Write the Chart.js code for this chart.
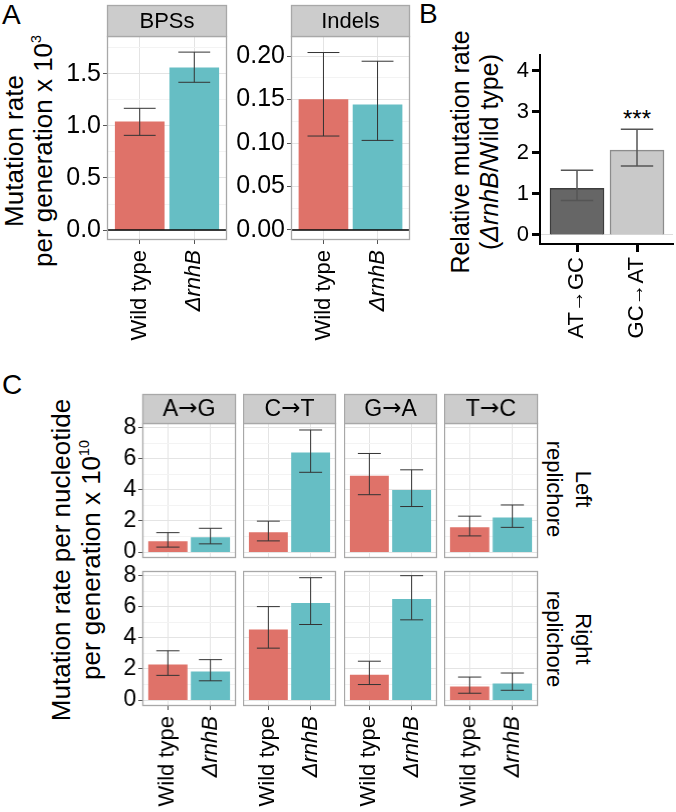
<!DOCTYPE html>
<html>
<head>
<meta charset="utf-8">
<script src="https://cdn.jsdelivr.net/npm/chart.js@4.4.1/dist/chart.umd.min.js"></script>
<style>
  body { margin: 0; background: #fff; }
  #fig { position: relative; width: 676px; height: 812px; overflow: hidden; background: #fff;
         font-family: "Liberation Sans", Arial, Helvetica, sans-serif; color: #000; }
  canvas { position: absolute; }
  .t { position: absolute; white-space: nowrap; }
  .rot { text-align: center; transform: translate(-50%, -50%) rotate(-90deg); }
  .rotr { text-align: center; transform: translate(-50%, -50%) rotate(90deg); }
  sup { font-size: 55%; line-height: 0; vertical-align: 0.75em; }
</style>
</head>
<body>
<div id="fig">
  <div class="t" style="left:2px;top:1px;font-size:28px;line-height:1;">A</div>
  <div class="t" style="left:419px;top:0px;font-size:28px;line-height:1;">B</div>
  <div class="t" style="left:2px;top:371px;font-size:28px;line-height:1;">C</div>

  <div class="t rot" style="left:28px;top:151px;font-size:26px;line-height:28.5px;">Mutation rate<br>per generation x 10<sup>3</sup></div>
  <div class="t rot" style="left:475px;top:152px;font-size:25px;line-height:29px;">Relative mutation rate<br>(<i>ΔrnhB</i>/Wild type)</div>
  <div class="t rot" style="left:76px;top:560px;font-size:26px;line-height:30px;">Mutation rate per nucleotide<br>per generation x 10<sup>10</sup></div>

  <div class="t rotr" id="rowTop" style="left:569px;top:489px;font-size:22px;line-height:29px;"></div>
  <div class="t rotr" id="rowBottom" style="left:569px;top:639px;font-size:22px;line-height:29px;"></div>

  <div class="t" style="left:637px;top:119px;font-size:24px;line-height:1;transform:translate(-50%,-50%);">***</div>
</div>
<script>
// ---------- data ----------
const strains = ["Wild type", "ΔrnhB"];

// A: mutation rate per generation x 10^3
const bpsRate = [1.04, 1.56];
const bpsLow = [0.91, 1.42];
const bpsHigh = [1.17, 1.71];
const bpsTicks = ["0.0", "0.5", "1.0", "1.5"];

const indelRate = [0.150, 0.144];
const indelLow = [0.108, 0.103];
const indelHigh = [0.204, 0.194];
const indelTicks = ["0.00", "0.05", "0.10", "0.15", "0.20"];

// B: relative mutation rate (ΔrnhB / wild type)
const classes = ["AT→GC", "GC→AT"];
const relRate = [1.14, 2.07];
const relLow = [0.84, 1.68];
const relHigh = [1.58, 2.58];
const relTicks = ["0", "1", "2", "3", "4"];

// C: mutation rate per nucleotide per generation x 10^10
const substitutions = ["A→G", "C→T", "G→A", "T→C"];
const replichores = ["Left", "Right"];
const leftWT = [0.68, 1.25, 4.88, 1.57];
const leftWTLow = [0.32, 0.72, 3.69, 1.04];
const leftWTHigh = [1.25, 1.99, 6.34, 2.31];
const leftKO = [0.93, 6.39, 3.97, 2.2];
const leftKOLow = [0.53, 5.13, 2.93, 1.59];
const leftKOHigh = [1.53, 7.85, 5.29, 3.03];
const rightWT = [2.26, 4.51, 1.61, 0.85];
const rightWTLow = [1.59, 3.34, 1.0, 0.44];
const rightWTHigh = [3.17, 6.01, 2.5, 1.48];
const rightKO = [1.82, 6.22, 6.48, 1.04];
const rightKOLow = [1.24, 4.86, 5.16, 0.63];
const rightKOHigh = [2.6, 7.87, 8.0, 1.74];
const cTicks = ["0", "2", "4", "6", "8"];

// ---------- drawing ----------
const FONT = '"Liberation Sans", Arial, Helvetica, sans-serif';
const ARROW_FONT = '"DejaVu Sans", sans-serif';
const RED = "#df7269";
const TEAL = "#66bec4";
const fig = document.getElementById("fig");

document.getElementById("rowTop").innerHTML = replichores[0] + "<br>replichore";
document.getElementById("rowBottom").innerHTML = replichores[1] + "<br>replichore";

function addCanvas(left, top, w, h) {
  const c = document.createElement("canvas");
  c.width = w; c.height = h;
  c.style.left = left + "px"; c.style.top = top + "px";
  c.style.width = w + "px"; c.style.height = h + "px";
  fig.appendChild(c);
  return c;
}

const errorBars = {
  id: "errorBars",
  afterDatasetsDraw(chart, args, o) {
    const ctx = chart.ctx, y = chart.scales.y;
    chart.data.datasets.forEach((ds, di) => {
      chart.getDatasetMeta(di).data.forEach((bar, i) => {
        const top = y.getPixelForValue(ds.errHigh[i]);
        const bot = y.getPixelForValue(ds.errLow[i]);
        const hw = bar.width * o.cap / 2;
        ctx.save();
        ctx.strokeStyle = o.color; ctx.lineWidth = o.width;
        ctx.beginPath();
        ctx.moveTo(bar.x, top); ctx.lineTo(bar.x, bot);
        ctx.moveTo(bar.x - hw, top); ctx.lineTo(bar.x + hw, top);
        ctx.moveTo(bar.x - hw, bot); ctx.lineTo(bar.x + hw, bot);
        ctx.stroke();
        ctx.restore();
      });
    });
  }
};

// strip text: letters in the main font, the arrow from DejaVu (tighter, longer glyph)
function drawStripText(ctx, text, cx, cy, size) {
  const parts = text.split("→");
  ctx.textBaseline = "middle";
  if (parts.length !== 2) {
    ctx.font = size + "px " + FONT; ctx.textAlign = "center";
    ctx.fillText(text, cx, cy);
    return;
  }
  ctx.textAlign = "left";
  ctx.font = size + "px " + FONT;
  const w1 = ctx.measureText(parts[0]).width, w3 = ctx.measureText(parts[1]).width;
  ctx.font = size + "px " + ARROW_FONT;
  const w2 = ctx.measureText("→").width;
  let x = cx - (w1 + w2 + w3) / 2;
  ctx.font = size + "px " + FONT; ctx.fillText(parts[0], x, cy); x += w1;
  ctx.font = size + "px " + ARROW_FONT; ctx.fillText("→", x, cy); x += w2;
  ctx.font = size + "px " + FONT; ctx.fillText(parts[1], x, cy);
}

const panelFrame = {
  id: "panelFrame",
  afterDatasetsDraw(chart, args, o) {
    const a = chart.chartArea, ctx = chart.ctx;
    ctx.save();
    if (o.hline !== undefined && o.hline !== null) {
      const yy = chart.scales.y.getPixelForValue(o.hline);
      ctx.strokeStyle = "#000"; ctx.lineWidth = 1.6;
      ctx.beginPath(); ctx.moveTo(a.left, yy); ctx.lineTo(a.right, yy); ctx.stroke();
    }
    if (o.border) {
      ctx.strokeStyle = o.border; ctx.lineWidth = 1.3;
      ctx.strokeRect(a.left + 0.5, a.top + 0.5, a.right - a.left - 1, a.bottom - a.top - 1);
      if (o.strip) {
        const t = a.top - o.stripH;
        ctx.fillStyle = "#cccccc";
        ctx.fillRect(a.left, t, a.right - a.left, o.stripH);
        ctx.strokeRect(a.left + 0.5, t + 0.5, a.right - a.left - 1, o.stripH);
        ctx.fillStyle = "#000";
        drawStripText(ctx, o.strip, (a.left + a.right) / 2, t + o.stripH / 2 + 1, o.stripSize);
      }
    }
    ctx.restore();
  }
};

const ggStyle = {
  frame: "#a8a8a8", errColor: "#333", errWidth: 1, cap: 0.6,
  tickLen: 4, tickWidth: 1, tickColor: "#555", yPad: 2, xPad: 6, minor: true,
  yGrid: (v, maj) => maj ? "#e4e4e4" : "#f3f3f3", xGrid: "#e4e4e4",
  colors: [RED, TEAL], labels: strains, xMin: 0.4, xMax: 2.6,
  xLabels: true, yLabels: true, padB: 0, stripSize: 22
};

function facet(opt) {
  const p = Object.assign({}, ggStyle, opt);
  const padR = 4;
  const cw = p.yAxisW + p.w + padR;
  const ch = p.padT + p.h + p.xAxisH + p.padB;
  const canvas = addCanvas(p.x - p.yAxisW, p.y - p.padT, cw, ch);
  const major = p.ticks.map(Number);
  const half = (major[1] - major[0]) / 2;
  const yTicks = major.slice();
  if (p.minor) major.forEach(v => { if (v + half < p.yMax) yTicks.push(v + half); });
  yTicks.sort((a, b) => a - b);
  const majorIndex = v => major.findIndex(m => Math.abs(m - v) < 1e-9);
  const noPad = s => { s.paddingLeft = 0; s.paddingRight = 0; s.paddingTop = 0; s.paddingBottom = 0; };

  return new Chart(canvas, {
    type: "bar",
    data: {
      datasets: [{
        data: p.values.map((v, i) => ({ x: i + 1, y: v })),
        errLow: p.lo,
        errHigh: p.hi,
        backgroundColor: p.colors,
        borderColor: p.edges || p.colors,
        borderWidth: p.edgeWidth || 0,
        barThickness: p.barPx
      }]
    },
    options: {
      responsive: false,
      animation: false,
      events: [],
      layout: { padding: { top: p.padT, right: padR, bottom: p.padB, left: 0 } },
      plugins: {
        legend: { display: false },
        tooltip: { enabled: false },
        errorBars: { color: p.errColor, width: p.errWidth, cap: p.cap },
        panelFrame: { border: p.frame, strip: p.strip, stripH: p.stripH, stripSize: p.stripSize, hline: p.hline }
      },
      scales: {
        x: {
          type: "linear", min: p.xMin, max: p.xMax, offset: false,
          afterBuildTicks: s => { s.ticks = p.labels.map((l, i) => ({ value: i + 1 })); },
          afterFit: s => { s.height = p.xAxisH; noPad(s); },
          border: { display: !!p.axisLine, color: "#000", width: 2 },
          grid: { offset: false, color: p.xGrid, lineWidth: 1, drawTicks: p.xLabels,
                  tickLength: p.tickLen, tickWidth: p.tickWidth, tickColor: p.tickColor },
          ticks: {
            display: p.xLabels, autoSkip: false, minRotation: 90, maxRotation: 90,
            padding: p.xPad, color: "#000",
            font: c => ({ family: FONT, size: 22, style: /Δ/.test(p.labels[c.index] || "") ? "italic" : "normal" }),
            callback: v => p.labels[Math.round(v) - 1]
          }
        },
        y: {
          min: p.yMin, max: p.yMax,
          afterBuildTicks: s => { s.ticks = yTicks.map(v => ({ value: v })); },
          afterFit: s => { s.width = p.yAxisW; noPad(s); },
          border: { display: !!p.axisLine, color: "#000", width: 2 },
          grid: {
            color: c => c.tick ? p.yGrid(c.tick.value, majorIndex(c.tick.value) >= 0) : "rgba(0,0,0,0)",
            lineWidth: 1, drawTicks: p.yLabels, tickLength: p.tickLen, tickWidth: p.tickWidth,
            tickColor: c => c.tick && majorIndex(c.tick.value) >= 0 ? p.tickColor : "rgba(0,0,0,0)"
          },
          ticks: {
            display: p.yLabels, autoSkip: false, padding: p.yPad, color: "#000",
            font: { family: FONT, size: p.tickSize },
            callback: v => { const k = majorIndex(v); return k >= 0 ? p.ticks[k] : ""; }
          }
        }
      }
    },
    plugins: [errorBars, panelFrame]
  });
}

// ---- panel A ----
facet({ x: 107, y: 36, w: 120, h: 204, yAxisW: 60, xAxisH: 110, padT: 33,
        strip: "BPSs", stripH: 31, hline: 0, barPx: 49, cap: 0.65,
        values: bpsRate, lo: bpsLow, hi: bpsHigh, ticks: bpsTicks,
        yMin: -0.096, yMax: 1.865, tickSize: 25 });
facet({ x: 291, y: 36, w: 119, h: 204, yAxisW: 70, xAxisH: 110, padT: 33,
        strip: "Indels", stripH: 31, hline: 0, barPx: 49, cap: 0.65,
        values: indelRate, lo: indelLow, hi: indelHigh, ticks: indelTicks,
        yMin: -0.0115, yMax: 0.223, tickSize: 25 });

// ---- panel B ----
facet({ x: 540, y: 55, w: 133, h: 189, yAxisW: 45, xAxisH: 100, padT: 14,
        frame: null, axisLine: true, minor: false,
        tickLen: 8, tickWidth: 3, tickColor: "#000", yPad: 3, xPad: 5,
        yGrid: v => v === 0 ? "#dcdcdc" : "rgba(0,0,0,0)", xGrid: "rgba(0,0,0,0)",
        colors: ["#666666", "#c9c9c9"], edges: ["#3d3d3d", "#8c8c8c"], edgeWidth: 1.5,
        errColor: "#555", errWidth: 1.5, cap: 0.6,
        labels: classes, xMin: 0.383, xMax: 2.6, barPx: 54,
        values: relRate, lo: relLow, hi: relHigh, ticks: relTicks,
        yMin: -0.22, yMax: 4.39, tickSize: 22 });

// ---- panel C ----
const cRows = [
  { wt: leftWT, wtLo: leftWTLow, wtHi: leftWTHigh, ko: leftKO, koLo: leftKOLow, koHi: leftKOHigh },
  { wt: rightWT, wtLo: rightWTLow, wtHi: rightWTHigh, ko: rightKO, koLo: rightKOLow, koHi: rightKOHigh }
];
substitutions.forEach((sub, j) => {
  cRows.forEach((row, r) => {
    facet({
      x: 142 + 100.8 * j, y: r === 0 ? 423 : 571, w: 93.5, h: 135,
      yAxisW: j === 0 ? 45 : 0, yLabels: j === 0,
      xAxisH: r === 1 ? 106 : 0, xLabels: r === 1,
      padT: r === 0 ? 31 : 14, padB: r === 0 ? 14 : 0,
      strip: r === 0 ? sub : null, stripH: 29, stripSize: 23,
      barPx: 38.25, cap: 0.6,
      values: [row.wt[j], row.ko[j]], lo: [row.wtLo[j], row.koLo[j]], hi: [row.wtHi[j], row.koHi[j]],
      ticks: cTicks, yMin: -0.38, yMax: 8.3, tickSize: 23
    });
  });
});
</script>
</body>
</html>
